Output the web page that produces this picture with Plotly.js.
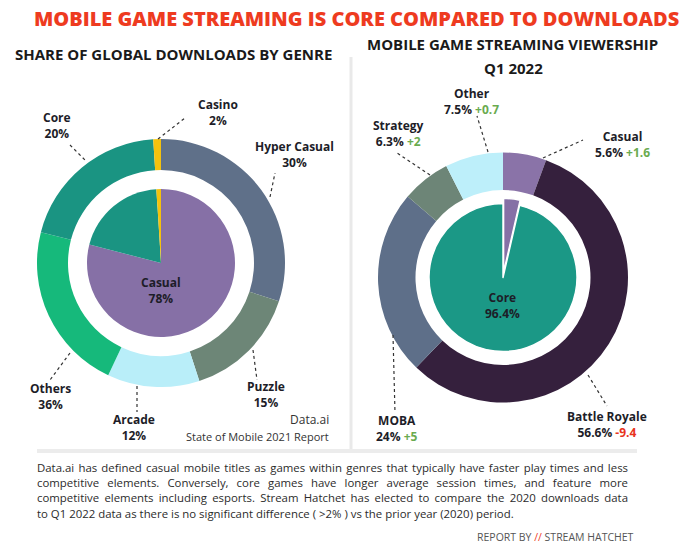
<!DOCTYPE html>
<html>
<head>
<meta charset="utf-8">
<script src="https://cdn.plot.ly/plotly-3.0.1.min.js"></script>
<style>html,body{margin:0;padding:0;background:#fff;}#chart{width:700px;height:560px;}</style>
</head>
<body>
<div id="chart"></div>
<script>
// ---------- DATA ----------
// Left: share of global downloads by genre (outer ring, clockwise from 12 o'clock)
const leftOuterGenres = ["Hyper Casual", "Puzzle", "Arcade", "Others", "Core", "Casino"];
const leftOuterArc    = [30, 15, 12, 22, 20, 1];          // arc sizes as drawn
const leftOuterPct    = ["30%", "15%", "12%", "36%", "20%", "2%"]; // printed labels
// Left inner pie
const leftInnerGroups = ["Casual", "Core", "Casino"];
const leftInnerArc    = [79, 20, 1];
const leftInnerPct    = ["78%", "20%", "2%"];
// Right: mobile game streaming viewership Q1 2022 (outer ring)
const rightOuterGenres = ["Casual", "Battle Royale", "MOBA", "Strategy", "Other"];
const rightOuterShare  = [5.6, 56.6, 24, 6.3, 7.5];
const rightOuterChange = ["+1.6", "-9.4", "+5", "+2", "+0.7"];
// Right inner pie
const rightInnerGroups = ["Casual", "Core"];
const rightInnerShare  = [3.6, 96.4];

// ---------- STYLES ----------
const leftOuterColors  = ["#5f7089", "#6d8677", "#b9eef9", "#16b97b", "#1a9482", "#f4c20d"];
const leftInnerColors  = ["#8670a6", "#1a9482", "#f4c20d"];
const rightOuterColors = ["#8a73a8", "#35203d", "#5e6f89", "#6d8577", "#bdeffa"];
const rightInnerColors = ["#8670a6", "#1b9886"];
const DARK = "#1d1d28", GREEN = "#6aab4f", RED = "#e8341c";
const FONT = "Open Sans";

const W = 700, H = 560;
const px = x => x / W, py = y => 1 - y / H;
const dom = (cx, cy, r) => ({x: [px(cx - r), px(cx + r)], y: [py(cy + r), py(cy - r)]});

const common = {type: "pie", sort: false, direction: "clockwise", rotation: 0,
  textinfo: "none", hoverinfo: "skip", showlegend: false};

const traces = [
  Object.assign({}, common, {values: leftOuterArc, labels: leftOuterGenres, hole: 0.75,
    marker: {colors: leftOuterColors, line: {width: 0}}, domain: dom(161, 263, 124)}),
  Object.assign({}, common, {values: leftInnerArc, labels: leftInnerGroups.map(g => g + " "),
    marker: {colors: leftInnerColors, line: {width: 0}}, domain: dom(161, 263, 74)}),
  Object.assign({}, common, {values: rightOuterShare, labels: rightOuterGenres, hole: 0.70,
    marker: {colors: rightOuterColors, line: {width: 0}}, domain: dom(503, 277.5, 125)}),
  Object.assign({}, common, {values: rightInnerShare, labels: rightInnerGroups.map(g => g + "  "),
    pull: [0.07, 0], marker: {colors: rightInnerColors, line: {width: 1.5, color: "#fff"}},
    domain: dom(503, 277.5, 74 * 1.07)})
];

// ---------- ANNOTATIONS ----------
const ann = [];
function lbl(x, y, text, opts) {
  ann.push(Object.assign({xref: "paper", yref: "paper", x: px(x), y: py(y), text: text,
    showarrow: false, xanchor: "center", yanchor: "middle", align: "center",
    font: {family: FONT, size: 12, color: DARK, weight: 700}}, opts || {}));
  return ann.length - 1;
}
// titles
lbl(356, 19, "MOBILE GAME STREAMING IS CORE COMPARED TO DOWNLOADS",
  {font: {family: FONT, size: 20, color: "#ee3b1f", weight: 800}});
lbl(173, 54, "SHARE OF GLOBAL DOWNLOADS BY GENRE", {font: {family: FONT, size: 15, color: "#1a1a1a", weight: 700}});
lbl(512, 44, "MOBILE GAME STREAMING VIEWERSHIP", {font: {family: FONT, size: 15, color: "#1a1a1a", weight: 700}});
lbl(513, 68, "Q1 2022", {font: {family: FONT, size: 15, color: "#1a1a1a", weight: 700}});

// left labels
const leftPos = {"Hyper Casual": [294, 154.5], "Puzzle": [266, 394], "Arcade": [134, 427],
  "Others": [50, 396], "Core": [57, 126], "Casino": [218, 113]};
leftOuterGenres.forEach((g, i) => lbl(leftPos[g][0], leftPos[g][1], g + "<br>" + leftOuterPct[i]));
lbl(161, 290, leftInnerGroups[0] + "<br>" + leftInnerPct[0]);

// right labels
const rightPos = {"Casual": [622, 144], "Battle Royale": [607, 424], "MOBA": [397, 428.5],
  "Strategy": [399, 133.5], "Other": [471, 101]};
rightOuterGenres.forEach((g, i) => {
  const c = rightOuterChange[i].startsWith("-") ? RED : GREEN;
  lbl(rightPos[g][0], rightPos[g][1], g + "<br>" + rightOuterShare[i] + "% <span style=\"color:" + c + "\">" + rightOuterChange[i] + "</span>");
});
lbl(503, 306, rightInnerGroups[1] + "<br>" + rightInnerShare[1] + "%");

// source
lbl(331, 419, "Data.ai", {xanchor: "right", font: {family: FONT, size: 12, color: "#333", weight: 400}});
lbl(331, 436, "State of Mobile 2021 Report", {xanchor: "right", font: {family: FONT, size: 11, color: "#333", weight: 400}});

// footnote
const foot = [
  "Data.ai has defined casual mobile titles as games within genres that typically have faster play times and less",
  "competitive elements. Conversely, core games have longer average session times, and feature more",
  "competitive elements including esports. Stream Hatchet has elected to compare the 2020 downloads data",
  "to Q1 2022 data as there is no significant difference ( >2% ) vs the prior year (2020) period."
];
const footIdx = foot.map((t, i) => lbl(35, 467.5 + i * 15.2, t,
  {xanchor: "left", align: "left", font: {family: FONT, size: 11.4, color: "#2b2b2b", weight: 400}}));
lbl(636, 537, "REPORT BY <span style=\"color:#ee3b1f\">//</span> STREAM HATCHET",
  {xanchor: "right", font: {family: FONT, size: 10.5, color: "#555", weight: 400}});

// ---------- SHAPES (leader lines, separators) ----------
const shapes = [];
function dot(x0, y0, x1, y1) {
  shapes.push({type: "line", xref: "paper", yref: "paper", x0: px(x0), y0: py(y0), x1: px(x1), y1: py(y1),
    line: {color: "#333", width: 1.2, dash: "dot"}});
}
dot(158, 139, 185, 118);   // Casino
dot(70, 145, 87, 162);     // Core
dot(270, 197, 275, 173);   // Hyper Casual
dot(70, 353, 50, 380);     // Others
dot(137, 386, 137, 412);   // Arcade
dot(253, 350, 257, 380);   // Puzzle
dot(488, 152, 477, 116);   // Other
dot(430, 175, 397, 153);   // Strategy
dot(543, 158, 583, 140);   // Casual
dot(393, 335, 395, 413);   // MOBA
dot(588, 375, 607, 406);   // Battle Royale
shapes.push({type: "line", xref: "paper", yref: "paper", x0: px(351), x1: px(351), y0: py(57), y1: py(449),
  line: {color: "#e9e9e9", width: 3}});
shapes.push({type: "line", xref: "paper", yref: "paper", x0: px(37), x1: px(637), y0: py(451), y1: py(451),
  line: {color: "#ececec", width: 4}});

Plotly.newPlot("chart", traces, {
  width: W, height: H, margin: {l: 0, r: 0, t: 0, b: 0},
  paper_bgcolor: "#fff", plot_bgcolor: "#fff",
  annotations: ann, shapes: shapes, showlegend: false
}, {displayModeBar: false, staticPlot: true}).then(gd => {
  // justify the first three footnote lines so they end at the text block's right edge
  const rightEdge = 628;
  const base = gd.getBoundingClientRect().left;
  footIdx.slice(0, 3).forEach((idx, i) => {
    const t = gd.querySelector('g.annotation[data-index="' + idx + '"] text.annotation-text');
    if (!t) return;
    const gaps = foot[i].split(" ").length - 1;
    let ws = 0;
    for (let k = 0; k < 5; k++) {
      t.style.wordSpacing = ws + "px";
      const r = t.getBoundingClientRect().right - base;
      ws += (rightEdge - r) / gaps;
    }
    t.style.wordSpacing = ws + "px";
  });
});
</script>
</body>
</html>
